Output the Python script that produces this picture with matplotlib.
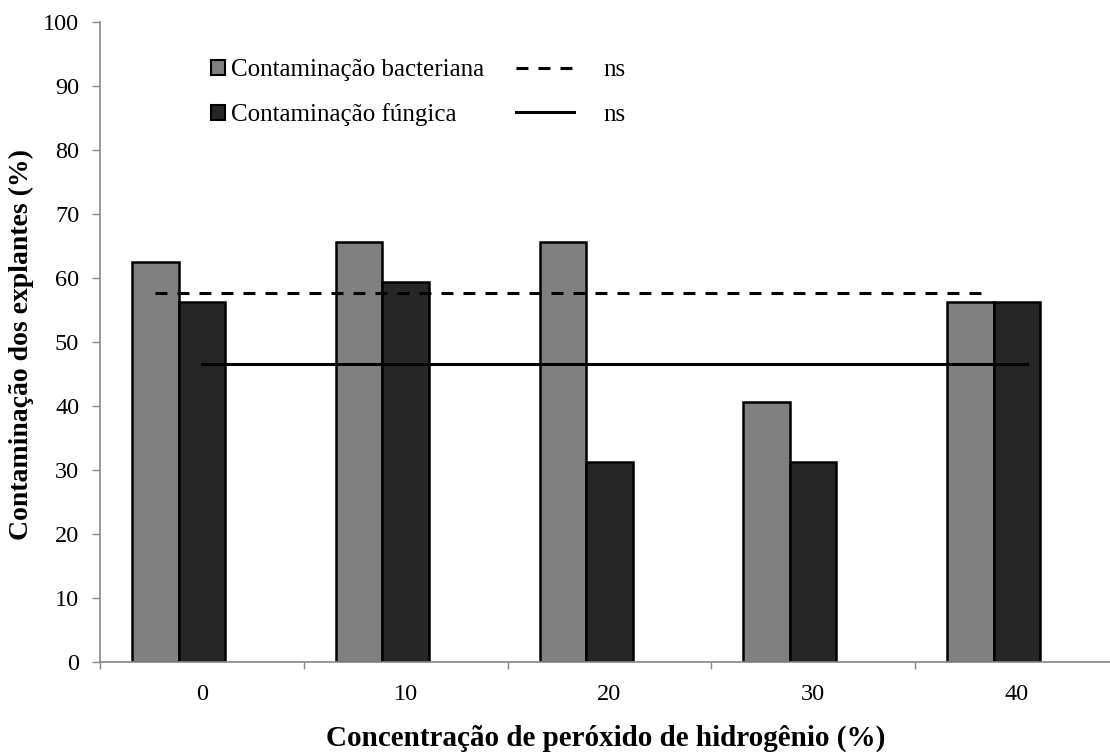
import matplotlib.pyplot as plt
from matplotlib.patches import Patch
from matplotlib.lines import Line2D
import numpy as np

# Concentrations of hydrogen peroxide and contamination rates (%)
concentracoes = ['0', '10', '20', '30', '40']
bacteriana = [62.5, 65.6, 65.6, 40.6, 56.25]
fungica = [56.25, 59.4, 31.25, 31.25, 56.25]

# Mean lines (non-significant regressions) and the span each one covers
media_bacteriana = 57.6
media_fungica = 46.6
span_bacteriana = (-0.23, 3.83)
span_fungica = (0.0, 4.05)

plt.rcParams['font.family'] = ['Liberation Serif', 'DejaVu Serif']

fig = plt.figure(figsize=(11.1, 7.55), dpi=100)
# axis runs a little past the right edge of the figure
ax = fig.add_axes([100 / 1110, (755 - 661.7) / 755, 1018.75 / 1110, 639.7 / 755])

x = np.arange(len(concentracoes))
largura = 0.228

ax.bar(x - largura, bacteriana, largura, align='center', color='#808080',
       edgecolor='black', linewidth=1.8, zorder=2)
ax.bar(x, fungica, largura, align='center', color='#262626',
       edgecolor='black', linewidth=1.8, zorder=2)

ax.plot(span_bacteriana, [media_bacteriana] * 2, color='black',
        linewidth=2.2, dashes=(3.9, 3.3), zorder=3)
ax.plot(span_fungica, [media_fungica] * 2, color='black',
        linewidth=2.2, zorder=3)

ax.set_xlim(-0.5, len(concentracoes) - 0.5)
ax.set_ylim(0, 100)
ax.set_yticks(range(0, 101, 10))

# tick marks between categories, labels on the category centres
ax.set_xticks(np.arange(-0.5, len(concentracoes), 1.0))
ax.set_xticklabels([])
ax.set_xticks(x, minor=True)
ax.set_xticklabels(concentracoes, minor=True)
ax.tick_params(axis='x', which='major', direction='out', length=5,
               color='#888888', width=1)
ax.tick_params(axis='x', which='minor', length=0, pad=16, labelsize=17.5)
ax.tick_params(axis='y', direction='out', length=6, color='#888888',
               width=1, pad=9, labelsize=17.5)

for lado in ['top', 'right']:
    ax.spines[lado].set_visible(False)
for lado in ['left', 'bottom']:
    ax.spines[lado].set_color('#888888')
    ax.spines[lado].set_linewidth(1.2)

fig.text(21 / 1110, 1 - 344 / 755, 'Contaminação dos explantes (%)',
         rotation=90, ha='center', va='center', fontsize=20, fontweight='bold')
fig.text(606 / 1110, 1 - 738 / 755, 'Concentração de peróxido de hidrogênio (%)',
         ha='center', va='center', fontsize=21, fontweight='bold')

# legend: bar series on the left, mean lines on the right
barras = [Patch(facecolor='#808080', edgecolor='black', linewidth=1.5,
                label='Contaminação bacteriana'),
          Patch(facecolor='#262626', edgecolor='black', linewidth=1.5,
                label='Contaminação fúngica')]
leg1 = ax.legend(handles=barras, loc='upper left',
                 bbox_to_anchor=(211 / 1110, 1 - 59 / 755),
                 bbox_transform=fig.transFigure, frameon=False, fontsize=18,
                 handlelength=0.55, handleheight=0.55, handletextpad=0.25,
                 labelspacing=0.88, borderpad=0, borderaxespad=0)
ax.add_artist(leg1)

linhas = [Line2D([0], [0], color='black', linewidth=2.2, dashes=(3.9, 3.3), label='ns'),
          Line2D([0], [0], color='black', linewidth=2.2, label='ns')]
ax.legend(handles=linhas, loc='upper left',
          bbox_to_anchor=(516 / 1110, 1 - 59 / 755),
          bbox_transform=fig.transFigure, frameon=False, fontsize=18,
          handlelength=2.3, handletextpad=1.2,
          labelspacing=0.88, borderpad=0, borderaxespad=0)

fig.savefig('out.png', dpi=100)
